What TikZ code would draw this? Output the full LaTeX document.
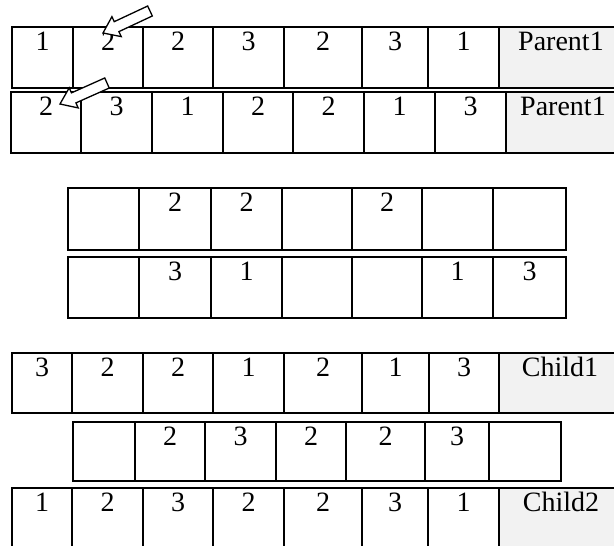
\documentclass[tikz,border=0pt]{standalone}
\usepackage{fontspec}
\setmainfont{Liberation Serif}
\usetikzlibrary{calc}
\definecolor{labelgray}{HTML}{F2F2F2}
\tikzset{
  outerline/.style={line width=2pt},
  innerline/.style={line width=1.4pt},
  num/.style={anchor=base, inner sep=0pt, font=\fontsize{28}{32}\selectfont},
  arrowbox/.style={draw, fill=white, line width=1.3pt, line join=miter},
}
% #1 name, #2 top, #3 bottom, #4 left, #5 right, #6 cells xa/xb/label
\newcommand\generow[6]{%
  \foreach \xa/\xb/\lab [count=\i] in {#6}{
    \draw[innerline] (\xa,#2) rectangle (\xb,#3);
    \node[num] (#1-\i) at ({(\xa+\xb)/2},{#2+23}) {\lab};
  }
  \draw[outerline] (#4,#2) rectangle (#5,#3);
}
% #1 name, #2 tail, #3 tip
\newcommand\blockarrow[3]{%
  \coordinate (#1-s) at #2;
  \coordinate (#1-t) at #3;
  \coordinate (#1-b) at ($(#1-t)!15pt!(#1-s)$);
  \draw[arrowbox] ($(#1-s)!5.5pt!90:(#1-t)$) -- ($(#1-b)!5.5pt!-90:(#1-s)$)
    -- ($(#1-b)!11pt!-90:(#1-s)$) -- (#1-t) -- ($(#1-b)!11pt!90:(#1-s)$)
    -- ($(#1-b)!5.5pt!90:(#1-s)$) -- ($(#1-s)!5.5pt!-90:(#1-t)$) -- cycle;
}
\begin{document}
\begin{tikzpicture}[x=1pt,y=-1pt]
\useasboundingbox (0,0) rectangle (614,546);
\clip (0,0) rectangle (614,546);

% Parent1 (row 1)
\fill[labelgray] (499,27) rectangle (630,88);
\generow{pa}{27}{88}{12}{630}{12/73/1,73/143/2,143/213/2,213/284/3,284/362/2,362/428/3,428/499/1}
\node[num] (pa-lab) at (561,50) {Parent1};

% Parent1 (row 2)
\fill[labelgray] (506,92) rectangle (630,153);
\generow{pb}{92}{153}{11}{630}{11/81/2,81/152/3,152/223/1,223/293/2,293/364/2,364/435/1,435/506/3}
\node[num] (pb-lab) at (563,115) {Parent1};

% middle rows
\generow{ma}{188}{250}{68}{566}{68/139/{},139/211/2,211/282/2,282/352/{},352/422/2,422/493/{},493/566/{}}
\generow{mb}{257}{318}{68}{566}{68/139/{},139/211/3,211/282/1,282/352/{},352/422/{},422/493/1,493/566/3}

% Child1
\fill[labelgray] (499,353) rectangle (630,413);
\generow{ca}{353}{413}{12}{630}{12/72/3,72/143/2,143/213/2,213/284/1,284/362/2,362/429/1,429/499/3}
\node[num] (ca-lab) at (560,376) {Child1};

% middle child row
\generow{cm}{422}{481}{73}{561}{73/135/{},135/205/2,205/276/3,276/346/2,346/425/2,425/489/3,489/561/{}}

% Child2
\fill[labelgray] (499,488) rectangle (630,560);
\generow{cb}{488}{560}{12}{630}{12/72/1,72/143/2,143/213/3,213/284/2,284/362/2,362/428/3,428/499/1}
\node[num] (cb-lab) at (561,511) {Child2};

% arrows
\blockarrow{arA}{(150,11)}{(103,33)}
\blockarrow{arB}{(107,83)}{(60,104)}
\end{tikzpicture}
\end{document}
